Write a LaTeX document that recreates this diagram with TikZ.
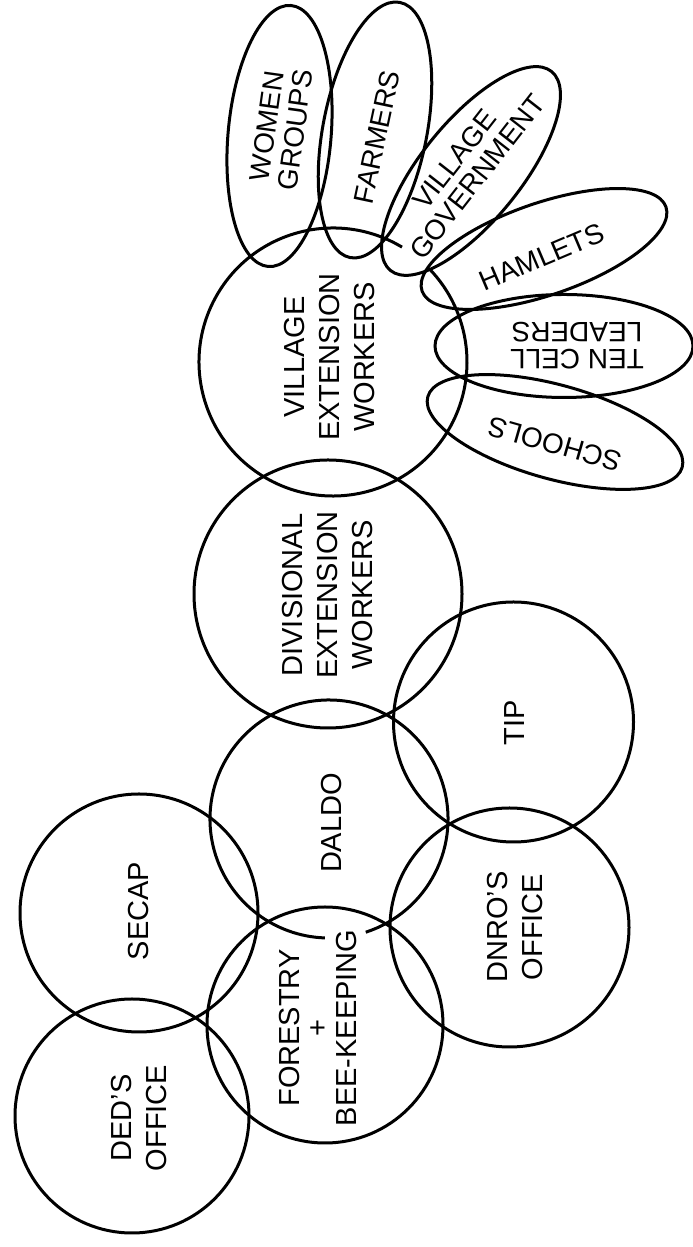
\documentclass[tikz,border=0pt]{standalone}
\usepackage{fontspec}
\setmainfont{Liberation Sans}
\usetikzlibrary{shapes.geometric}

\tikzset{
  ink/.style={line width=3pt, black},
  % circle outline: #1 = diameter
  ring/.style={ink, draw, circle, minimum size=#1, inner sep=0pt, outer sep=0pt},
  % circle placeholder whose outline is drawn as an arc with a gap
  hollow/.style={circle, minimum size=#1, inner sep=0pt, outer sep=0pt},
  % ellipse outline: width, height, tilt
  petal/.style n args={3}{ink, draw, ellipse, minimum width=#1, minimum height=#2,
                          inner sep=0pt, outer sep=0pt, rotate=#3},
  lbl/.style={align=center, inner sep=0pt, font=\fontsize{29}{35}\selectfont},
  plbl/.style={align=center, inner sep=0pt, font=\fontsize{28}{28.5}\selectfont},
}

\begin{document}
\begin{tikzpicture}[x=1pt, y=1pt]
\useasboundingbox (0,0) rectangle (693,1247);

% ---- district level circles ----
\node[ring=234pt] (ded)      at (132,131)   {};
\node[ring=238pt] (secap)    at (139,334)   {};
\node[ring=236pt] (forestry) at (325,222)   {};
\node[hollow=238pt] (daldo)  at (329,428)   {};
\draw[ink] (daldo.center) ++(288:119pt) arc[start angle=288, end angle=628, radius=119pt];
\node[ring=239pt] (dnro)     at (509.5,319.5) {};
\node[ring=240pt] (tip)      at (513.5,525) {};
\node[ring=268pt] (divext)   at (328,653)   {};
\node[hollow=268pt] (vilext) at (333,885)   {};
\draw[ink] (vilext.center) ++(59:134pt) arc[start angle=59, end angle=404, radius=134pt];

% ---- village level ellipses ----
\node[petal={262pt}{103pt}{85}]    (women)   at (279.5,1111) {};
\node[petal={260pt}{104pt}{79}]    (farmers) at (375,1117)   {};
\node[petal={256pt}{100pt}{51}]    (villgov) at (471,1076)   {};
\node[petal={258pt}{92pt}{19}]     (hamlets) at (544,998)    {};
\node[petal={258pt}{103pt}{0}]     (tencell) at (564,901)    {};
\node[petal={264pt}{94pt}{-15.5}]  (schools) at (555,815)    {};

% ---- labels ----
\node[lbl, rotate=90] (dedtxt)   at (139,129)   {DED’S\\OFFICE};
\node[lbl, rotate=90] (secaptxt) at (139,336)   {SECAP};
\node[lbl, rotate=90, font=\fontsize{29}{28.5}\selectfont] (foresttxt) at (318,219) {FORESTRY\\+\\BEE-KEEPING};
\node[lbl, rotate=90] (daldotxt) at (332,424)   {DALDO};
\node[lbl, rotate=90] (tiptxt)   at (515,524.5) {TIP};
\node[lbl, rotate=90] (dnrotxt)  at (515,320)   {DNRO’S\\OFFICE};
\node[lbl, rotate=90] (divtxt)   at (327.5,652) {DIVISIONAL\\EXTENSION\\WORKERS};
\node[lbl, rotate=90] (viltxt)   at (330,890)   {VILLAGE\\EXTENSION\\WORKERS};

\node[plbl, rotate=82]  (womentxt)   at (281,1119) {WOMEN\\GROUPS};
\node[plbl, rotate=78]  (farmerstxt) at (377,1110) {FARMERS};
\node[plbl, rotate=52]  (villgovtxt) at (466,1079) {VILLAGE\\GOVERNMENT};
\node[plbl, rotate=23]  (hamletstxt) at (542,990)  {HAMLETS};
\node[plbl, rotate=180, font=\fontsize{28}{27}\selectfont] (tencelltxt) at (577,901) {TEN CELL\\LEADERS};
\node[plbl, rotate=164] (schoolstxt) at (555,803)  {SCHOOLS};
\end{tikzpicture}
\end{document}
